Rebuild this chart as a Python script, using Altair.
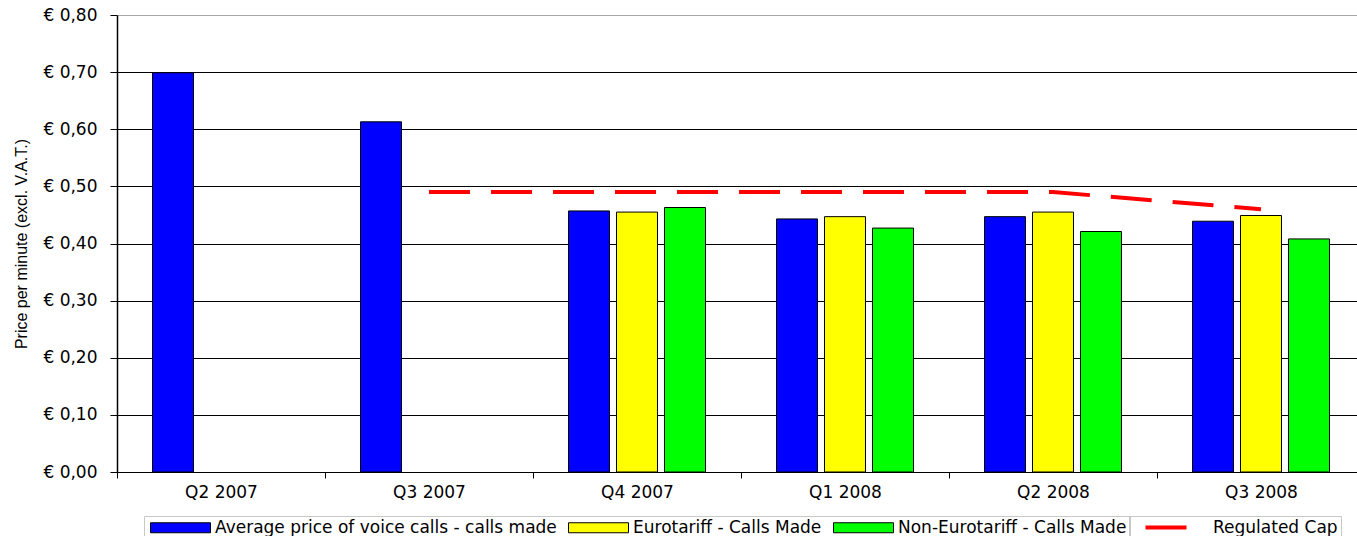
import altair as alt
import pandas as pd

quarters = ["Q2 2007", "Q3 2007", "Q4 2007", "Q1 2008", "Q2 2008", "Q3 2008"]
series_names = [
    "Average price of voice calls - calls made",
    "Eurotariff - Calls Made",
    "Non-Eurotariff - Calls Made",
]
series_colors = ["#0000ff", "#ffff00", "#00ff00"]
avg_price = [0.699, 0.613, 0.457, 0.443, 0.447, 0.439]
eurotariff = [None, None, 0.455, 0.447, 0.455, 0.449]
non_eurotariff = [None, None, 0.463, 0.427, 0.421, 0.408]
cap_name = "Regulated Cap"
regulated_cap = [None, 0.49, 0.49, 0.49, 0.49, 0.46]
y_ticks = [0.0, 0.1, 0.2, 0.3, 0.4, 0.5, 0.6, 0.7, 0.8]

rows = []
for name, vals in zip(series_names, [avg_price, eurotariff, non_eurotariff]):
    for q, v in zip(quarters, vals):
        if v is not None:
            rows.append({"quarter": q, "series": name, "value": v})
bars_df = pd.DataFrame(rows)
cap_df = pd.DataFrame(
    [{"quarter": q, "label": cap_name, "value": v} for q, v in zip(quarters, regulated_cap) if v is not None]
)

LBL_FONT = "DejaVu Sans"

# the category axis runs a little past the right edge of the picture, as in the reference
x_scale = alt.Scale(domain=quarters, range=[0, 1248], paddingInner=0, paddingOuter=0)
x_axis = alt.Axis(
    title=None, labelAngle=0, tickBand="extent", tickSize=6, tickColor="black",
    domainColor="black", labelFont=LBL_FONT, labelFontSize=17, labelColor="black",
    labelPadding=6, grid=False,
)
y_scale = alt.Scale(domain=[0, 0.8], nice=False)
y_axis = alt.Axis(
    title="Price per minute (excl. V.A.T.)", values=y_ticks,
    labelExpr="'€ ' + replace(format(datum.value, '.2f'), '.', ',')",
    labelFont=LBL_FONT, labelFontSize=17, labelColor="black", labelPadding=13,
    tickSize=7, tickColor="black", domainColor="black", domainWidth=1.5,
    grid=True, gridColor=alt.condition("datum.value > 0.79", alt.value("#a8a8a8"), alt.value("#000000")),
    gridOpacity=1, gridWidth=1,
    titleFont="Liberation Sans", titleFontSize=16, titleFontWeight="normal",
    titleColor="black", titlePadding=13,
)

bars = alt.Chart(bars_df).mark_bar(stroke="black", strokeWidth=1).encode(
    x=alt.X("quarter:N", scale=x_scale, axis=x_axis, sort=quarters),
    xOffset=alt.XOffset(
        "series:N",
        scale=alt.Scale(domain=series_names, paddingInner=0.146, paddingOuter=0.7396),
    ),
    y=alt.Y("value:Q", scale=y_scale, axis=y_axis),
    color=alt.Color(
        "series:N",
        scale=alt.Scale(domain=series_names, range=series_colors),
        legend=alt.Legend(
            title=None, orient="none", legendX=27, legendY=501, direction="horizontal",
            symbolType="M-1,-1H11V1H-1Z", symbolSize=100,
            symbolStrokeColor="black", symbolStrokeWidth=1, symbolOpacity=1,
            labelFont=LBL_FONT, labelFontSize=17, labelColor="black", labelLimit=600,
            labelOffset=51, columnPadding=8, padding=3, strokeColor="#c8c8c8",
        ),
    ),
)

cap = alt.Chart(cap_df).mark_line(strokeWidth=4, strokeDash=[41, 21], strokeCap="butt").encode(
    x=alt.X("quarter:N", scale=x_scale, axis=x_axis, sort=quarters),
    y=alt.Y("value:Q", scale=y_scale, axis=y_axis),
    stroke=alt.Stroke(
        "label:N",
        scale=alt.Scale(domain=[cap_name], range=["#ff0000"]),
        legend=alt.Legend(
            title=None, orient="none", legendX=1012, legendY=501,
            symbolType="M1,0H9.2", symbolSize=100, symbolStrokeWidth=4,
            labelFont=LBL_FONT, labelFontSize=17, labelColor="black", labelLimit=600,
            labelOffset=64, padding=3, strokeColor="#c8c8c8",
        ),
    ),
)

chart = alt.layer(bars, cap).resolve_legend(color="independent", stroke="independent").properties(
    width=1240, height=457,
    autosize=alt.AutoSizeParams(type="none"),
    padding={"left": 117, "top": 15, "right": 0, "bottom": 64},
    background="white",
).configure_view(strokeWidth=0)

chart.save("out.html", embed_options={"renderer": "svg", "actions": False})
